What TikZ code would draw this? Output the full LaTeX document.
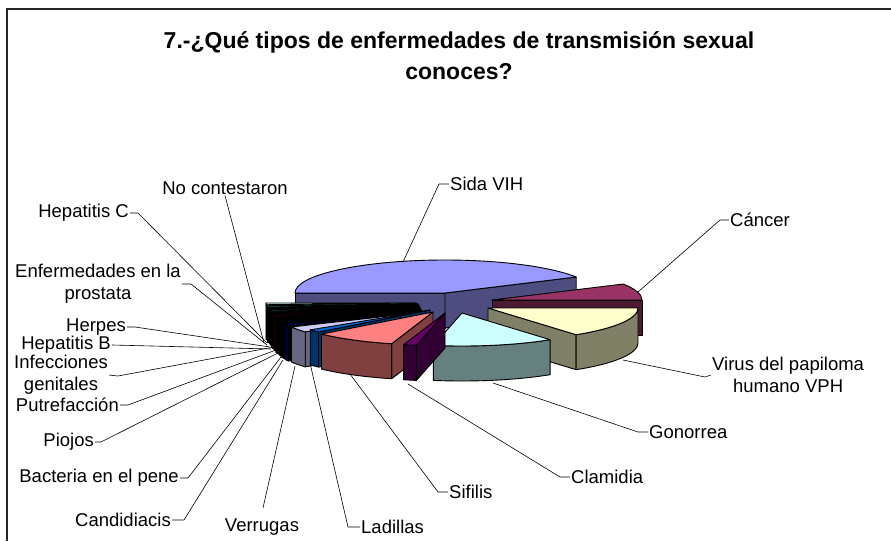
\documentclass[tikz,border=0pt]{standalone}
\usepackage{fontspec}
\setmainfont{Liberation Sans}
\begin{document}
\begin{tikzpicture}[x=1pt,y=-1pt,
  pie/.style={draw=black,line width=0.9pt,line join=round},
  lead/.style={draw=black,line width=0.6pt},
  lbl/.style={inner sep=1pt,font=\fontsize{18.5}{22}\selectfont,align=center}]
\definecolor{sidaT}{HTML}{9999FF}\definecolor{sidaS}{HTML}{4D4D80}
\definecolor{canT}{HTML}{993366}\definecolor{canS}{HTML}{4D1A33}
\definecolor{vphT}{HTML}{FFFFCC}\definecolor{vphS}{HTML}{808066}
\definecolor{gonT}{HTML}{CCFFFF}\definecolor{gonS}{HTML}{668080}
\definecolor{claT}{HTML}{660066}\definecolor{claS}{HTML}{330033}
\definecolor{sifT}{HTML}{FF8080}\definecolor{sifS}{HTML}{804040}
\definecolor{ladT}{HTML}{0066CC}\definecolor{ladS}{HTML}{003366}
\definecolor{verT}{HTML}{CCCCFF}\definecolor{verS}{HTML}{666680}
\definecolor{tealT}{HTML}{008080}\definecolor{tealS}{HTML}{006666}
\definecolor{dredT}{HTML}{800000}\definecolor{dredS}{HTML}{400000}
\definecolor{navyT}{HTML}{000080}\definecolor{navyS}{HTML}{000033}
\definecolor{cyT}{HTML}{CCFFFF}
\newcommand\pslice[7]{%
  \pgfmathsetmacro\pcA{cos(#3)}%
  \pgfmathsetmacro\pcB{cos(#4)}%
  \pgfmathsetmacro\pHi{min(#3,0)}%
  \pgfmathsetmacro\pLo{max(#4,-180)}%
  \pgfmathsetmacro\xA{#1+150*cos(#3)}\pgfmathsetmacro\yA{#2-33*sin(#3)}%
  \pgfmathsetmacro\xB{#1+150*cos(#4)}\pgfmathsetmacro\yB{#2-33*sin(#4)}%
  \pgfmathsetmacro\xH{#1+150*cos(\pHi)}\pgfmathsetmacro\yH{#2-33*sin(\pHi)}%
  \ifdim\pcA pt<0pt
    \filldraw[pie,fill=#7] (#1,#2) -- (\xA,\yA) -- (\xA,\yA+35) -- (#1,#2+35) -- cycle;
  \fi
  \ifdim\pcB pt>0pt
    \filldraw[pie,fill=#7] (#1,#2) -- (\xB,\yB) -- (\xB,\yB+35) -- (#1,#2+35) -- cycle;
  \fi
  \ifdim\pHi pt>\pLo pt
    \filldraw[pie,fill=#6] (\xH,\yH) arc[start angle={-\pHi}, end angle={-\pLo}, x radius=150, y radius=33]
      -- ++(0,35) arc[start angle={-\pLo}, end angle={-\pHi}, x radius=150, y radius=33] -- cycle;
  \fi
  \filldraw[pie,fill=#5] (#1,#2) -- (\xA,\yA) arc[start angle={-(#3)}, end angle={-(#4)}, x radius=150, y radius=33] -- cycle;
}
\useasboundingbox (0,0) rectangle (891,541);
\fill[white] (0,0) rectangle (891,541);
\draw[line width=2pt,draw=black!85] (891,9) -- (7,9) -- (7,541);
% title
\node[font=\bfseries\fontsize{23}{31}\selectfont,align=center] (title) at (459,56)
  {7.-¿Qué tipos de enfermedades de transmisión sexual\\conoces?};
% slices, back to front
\pslice{445}{293}{180}{29}{sidaT}{sidaS}{sidaS}
\pslice{492}{300}{29}{0}{canT}{canS}{canS}
\pslice{488}{308}{0}{-54}{vphT}{vphS}{vphS}
\pslice{416}{303}{-177}{-180}{cyT}{tealS}{tealS}
\pslice{417}{304}{-174}{-177}{tealT}{tealS}{black}
\pslice{418}{304}{-171.5}{-174}{black}{tealS}{black}
\pslice{419}{305}{-169}{-171.5}{tealT}{black}{black}
\pslice{419}{306}{-166.5}{-169}{black}{black}{black}
\pslice{420}{307}{-164}{-166.5}{dredT}{dredS}{black}
\pslice{420}{308}{-161.5}{-164}{black}{black}{black}
\pslice{421}{309}{-159}{-161.5}{black}{black}{black}
\pslice{421}{310}{-156}{-159}{black}{black}{black}
\pslice{422}{311}{-153}{-156}{navyT}{navyS}{black}
\pslice{425}{312}{-143}{-153}{verT}{verS}{verS}
\pslice{430}{310}{-138}{-143}{ladT}{ladS}{ladS}
\pslice{433}{312}{-106}{-138}{sifT}{sifS}{sifS}
\pslice{462}{313}{-54}{-101}{gonT}{gonS}{gonS}
\pslice{445}{313}{-101}{-106}{claT}{claS}{claS}
% anchor points on the pie
\coordinate (pSida) at (403,262);
\coordinate (pCan) at (638,292);
\coordinate (pVph) at (623,360);
\coordinate (pGon) at (493,383);
\coordinate (pCla) at (408,384);
\coordinate (pSif) at (350,374);
\coordinate (pLad) at (310,363);
\coordinate (pVer) at (295,366);
\coordinate (pCand) at (283,360);
\coordinate (pBac) at (281,357);
\coordinate (pPio) at (278,353);
\coordinate (pPut) at (276,350);
\coordinate (pInf) at (274,347);
\coordinate (pHepB) at (271,349);
\coordinate (pHer) at (270,347);
\coordinate (pPro) at (267,345);
\coordinate (pHepC) at (267,343);
\coordinate (pNo) at (264,343);
% labels
\node[lbl,anchor=west] (lSida) at (449,184) {Sida VIH};
\node[lbl,anchor=west] (lCan) at (729,220) {Cáncer};
\node[lbl,anchor=west] (lVph) at (711,375) {Virus del papiloma\\humano VPH};
\node[lbl,anchor=west] (lGon) at (648,432) {Gonorrea};
\node[lbl,anchor=west] (lCla) at (570,477) {Clamidia};
\node[lbl,anchor=west] (lSif) at (448,492) {Sifilis};
\node[lbl,anchor=west] (lLad) at (360,527) {Ladillas};
\node[lbl] (lVer) at (262,527) {Verrugas};
\node[lbl,anchor=east] (lCand) at (172,520) {Candidiacis};
\node[lbl,anchor=east] (lBac) at (180,478) {Bacteria en el pene};
\node[lbl,anchor=east] (lPio) at (95,442) {Piojos};
\node[lbl,anchor=east] (lPut) at (120,405) {Putrefacción};
\node[lbl,anchor=east] (lInf) at (109,375) {Infecciones\\genitales};
\node[lbl,anchor=east] (lHepB) at (112,345) {Hepatitis B};
\node[lbl,anchor=east] (lHer) at (127,327) {Herpes};
\node[lbl,anchor=east] (lPro) at (182,284) {Enfermedades en la\\prostata};
\node[lbl,anchor=east] (lHepC) at (130,213) {Hepatitis C};
\node[lbl] (lNo) at (225,188) {No contestaron};
% leaders
\draw[lead] (pSida) -- (439,184) -- (lSida.west);
\draw[lead] (pCan) -- (720,220) -- (lCan.west);
\draw[lead] (pVph) -- (705,377) -- (lVph.west);
\draw[lead] (pGon) -- (638,432) -- (lGon.west);
\draw[lead] (pCla) -- (560,477) -- (lCla.west);
\draw[lead] (pSif) -- (438,492) -- (lSif.west);
\draw[lead] (pLad) -- (348,527) -- (lLad.west);
\draw[lead] (pVer) -- (263,508);
\draw[lead] (pCand) -- (184,520) -- (lCand.east);
\draw[lead] (pBac) -- (188,478) -- (lBac.east);
\draw[lead] (pPio) -- (101,442) -- (lPio.east);
\draw[lead] (pPut) -- (128,405) -- (lPut.east);
\draw[lead] (pInf) -- (118,376) -- (lInf.east);
\draw[lead] (pHepB) -- (lHepB.east);
\draw[lead] (pHer) -- (135,327) -- (lHer.east);
\draw[lead] (pPro) -- (191,284) -- (lPro.east);
\draw[lead] (pHepC) -- (138,213) -- (lHepC.east);
\draw[lead] (pNo) -- (lNo.south);
\end{tikzpicture}
\end{document}
